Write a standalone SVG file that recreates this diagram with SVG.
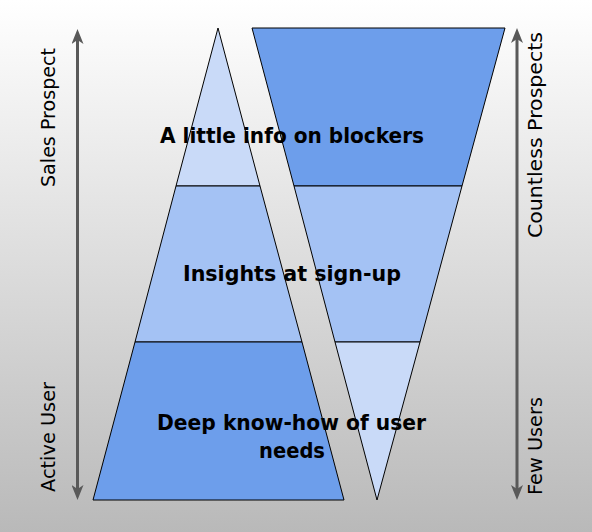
<svg xmlns="http://www.w3.org/2000/svg" width="592" height="532" viewBox="0 0 592 532">
  <defs>
    <linearGradient id="bg" x1="0" y1="0" x2="0" y2="1">
      <stop offset="0" stop-color="#ffffff"/>
      <stop offset="1" stop-color="#b9b9b9"/>
    </linearGradient>
    <marker id="ah" viewBox="0 0 15 12" refX="4" refY="6" markerUnits="userSpaceOnUse" markerWidth="15" markerHeight="12" orient="auto-start-reverse">
      <path d="M0,0 L15,6 L0,12 L4,6 Z" fill="#595959"/>
    </marker>
  </defs>
  <style>
    .sec { stroke: #000; stroke-width: 1; stroke-linejoin: miter; }
    .dark { fill: #6d9eeb; }
    .mid { fill: #a4c2f4; }
    .light { fill: #c9daf8; }
    .lbl { font-family: "DejaVu Sans", "Liberation Sans", sans-serif; font-weight: bold; font-size: 21px; fill: #000; text-anchor: middle; }
    .axis { font-family: "DejaVu Sans", "Liberation Sans", sans-serif; font-size: 19px; fill: #000; text-anchor: middle; }
    .arr { stroke: #595959; stroke-width: 3; fill: none; }
  </style>
  <rect x="0" y="0" width="592" height="532" fill="url(#bg)"/>

  <g id="left-pyramid">
    <g id="left-top"><polygon class="sec light" points="218,28 260,186 176,186"/></g>
    <g id="left-mid"><polygon class="sec mid" points="176,186 260,186 302,342 135,342"/></g>
    <g id="left-bottom"><polygon class="sec dark" points="135,342 302,342 344,500 93,500"/></g>
  </g>
  <g id="right-funnel">
    <g id="right-top"><polygon class="sec dark" points="252,28 505,28 462,186 294,186"/></g>
    <g id="right-mid"><polygon class="sec mid" points="294,186 462,186 420,342 335,342"/></g>
    <g id="right-bottom"><polygon class="sec light" points="335,342 420,342 377,500"/></g>
  </g>

  <g id="connectors">
    <line class="arr" x1="77.5" y1="40" x2="77.5" y2="489" marker-start="url(#ah)" marker-end="url(#ah)"/>
    <line class="arr" x1="517" y1="39" x2="517" y2="489" marker-start="url(#ah)" marker-end="url(#ah)"/>
  </g>

  <g id="label-blockers"><text class="lbl" x="292" y="143" textLength="264" lengthAdjust="spacingAndGlyphs">A little info on blockers</text></g>
  <g id="label-signup"><text class="lbl" x="292" y="281" textLength="218" lengthAdjust="spacingAndGlyphs">Insights at sign-up</text></g>
  <g id="label-deep"><text class="lbl" x="291.5" y="430" textLength="269" lengthAdjust="spacingAndGlyphs">Deep know-how of user</text><text class="lbl" x="292" y="458" textLength="66" lengthAdjust="spacingAndGlyphs">needs</text></g>

  <g id="axis-sales"><text class="axis" transform="translate(55,117.5) rotate(-90)" textLength="139" lengthAdjust="spacingAndGlyphs">Sales Prospect</text></g>
  <g id="axis-active"><text class="axis" transform="translate(55,437) rotate(-90)" textLength="110" lengthAdjust="spacingAndGlyphs">Active User</text></g>
  <g id="axis-countless"><text class="axis" transform="translate(542,135) rotate(-90)" textLength="206" lengthAdjust="spacingAndGlyphs">Countless Prospects</text></g>
  <g id="axis-few"><text class="axis" transform="translate(542,446) rotate(-90)" textLength="98" lengthAdjust="spacingAndGlyphs">Few Users</text></g>
</svg>
